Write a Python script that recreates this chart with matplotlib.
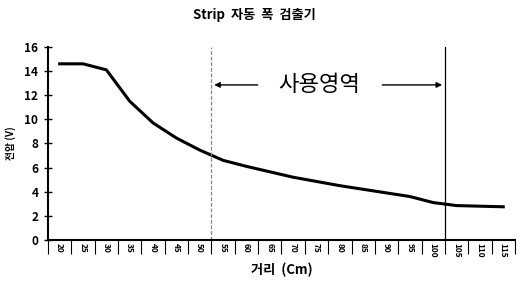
import matplotlib
matplotlib.use("Agg")
import matplotlib.pyplot as plt

plt.rcParams['font.family'] = ['Noto Sans CJK KR', 'DejaVu Sans']
plt.rcParams['axes.unicode_minus'] = False

# 거리 (cm) 와 전압 (V)
distance = [20, 25, 30, 35, 40, 45, 50, 55, 60, 65, 70, 75, 80, 85, 90, 95, 100, 105, 110, 115]
voltage = [14.6, 14.6, 14.1, 11.5, 9.7, 8.45, 7.45, 6.6, 6.1, 5.65, 5.2, 4.85, 4.5, 4.2, 3.9, 3.6, 3.1, 2.85, 2.8, 2.75]
# 사용영역 경계 (카테고리 사이)
zone_start = 6.5
zone_end = 16.5

fig = plt.figure(figsize=(5.2, 2.81), dpi=100)
ax = fig.add_axes([0.0923, 0.146, 0.898, 0.687])

x = list(range(len(distance)))
ax.plot(x, voltage, color='black', linewidth=2.2, solid_joinstyle='round')

ax.axvline(zone_start, color='#888888', linewidth=0.9, linestyle=(0, (3, 1.5)))
ax.axvline(zone_end, color='black', linewidth=0.9)

# 사용영역 화살표
arrow_y = 12.85
ax.text((zone_start + zone_end) / 2 - 0.4, arrow_y, '사용영역', fontsize=16,
        ha='center', va='center', fontweight='light')
ax.annotate('', xy=(zone_start, arrow_y), xytext=(zone_start + 2.1, arrow_y),
            arrowprops=dict(arrowstyle='-|>', color='black', lw=1, mutation_scale=8))
ax.annotate('', xy=(zone_end, arrow_y), xytext=(zone_end - 2.8, arrow_y),
            arrowprops=dict(arrowstyle='-|>', color='black', lw=1, mutation_scale=8))

ax.set_xlim(-0.5, len(distance) - 0.5)
ax.set_ylim(0, 16)
ax.set_yticks(range(0, 17, 2))
ax.tick_params(axis='y', direction='inout', length=6, width=1, labelsize=8.5, pad=4)
for lab in ax.get_yticklabels():
    lab.set_fontweight('bold')

ax.set_xticks(x)
ax.set_xticklabels([str(d) for d in distance], rotation=-90, fontsize=6, fontweight='bold')
ax.tick_params(axis='x', which='major', length=0, pad=2)
ax.set_xticks([i - 0.5 for i in range(len(distance) + 1)], minor=True)
ax.tick_params(axis='x', which='minor', direction='out', length=10, width=0.8)

for side in ['top', 'right']:
    ax.spines[side].set_visible(False)
for side in ['left', 'bottom']:
    ax.spines[side].set_linewidth(1.5)

fig.text(0.49, 0.945, 'Strip  자동  폭  검출기', fontsize=9.5, fontweight='bold',
         ha='center', va='center')
ax.set_xlabel('거리  (Cm)', fontsize=9.5, fontweight='bold', labelpad=3)
ax.set_ylabel('전압 (V)', fontsize=7, fontweight='bold', labelpad=6)

fig.savefig('out.png', dpi=100)
